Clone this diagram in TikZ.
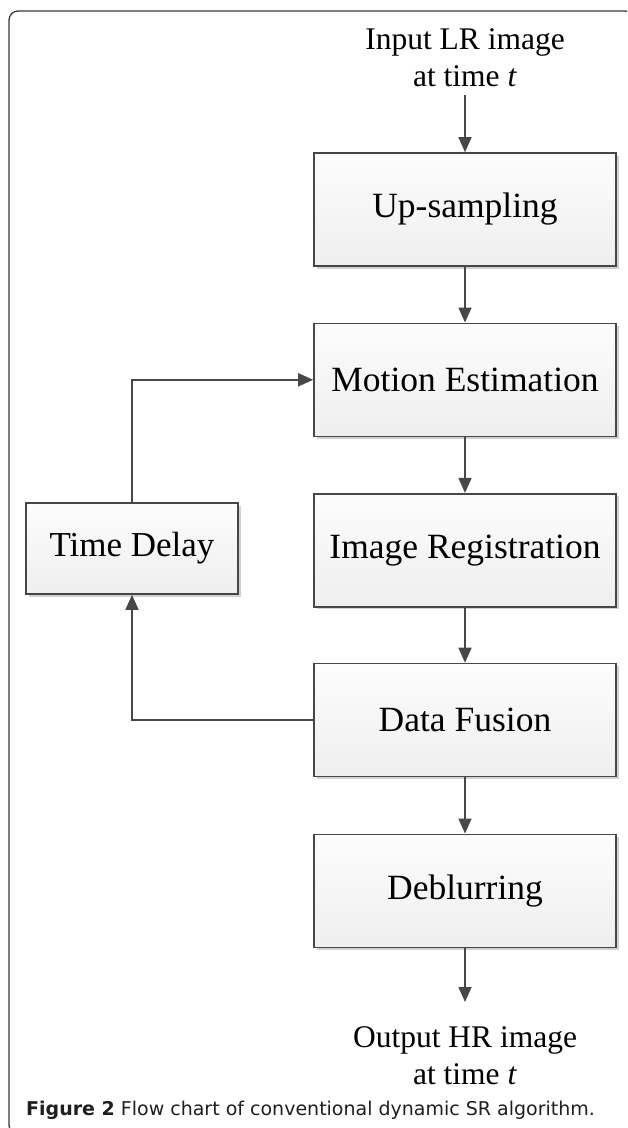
\documentclass[tikz,border=0pt]{standalone}
\usepackage{fontspec}
\setmainfont{Liberation Serif}
\newfontfamily\capfont{DejaVu Sans}
\usetikzlibrary{arrows.meta,shadows}

\definecolor{edge}{HTML}{474747}
\definecolor{framecol}{HTML}{3A3A3A}

\tikzset{
  proc/.style={draw=edge, line width=1.6pt, top color=gray!2, bottom color=gray!13,
    drop shadow={shadow xshift=2.5pt, shadow yshift=-2.5pt, opacity=0.18, fill=black},
    minimum width=302pt, minimum height=113pt, inner sep=0pt,
    font=\fontsize{35.5}{40}\selectfont},
  delaybox/.style={proc, minimum width=212pt, minimum height=91pt,
    font=\fontsize{35}{40}\selectfont},
  iotext/.style={align=center, inner sep=0pt, font=\fontsize{31.5}{37}\selectfont},
  flow/.style={draw=edge, line width=1.6pt, -{Triangle[length=15pt,width=13pt]}},
}

\begin{document}
\begin{tikzpicture}[x=1pt, y=-1pt]
  \useasboundingbox (0,0) rectangle (627,1128);
  \fill[white] (0,0) rectangle (627,1128);

  % outer frame, running off the right and bottom edges
  \begin{scope}
    \clip (0,0) rectangle (627,1128);
    \draw[framecol, line width=1.3pt, rounded corners=9pt] (9,11) rectangle (634,1134);
  \end{scope}

  % processing chain
  \node[iotext] (in) at (465,58) {Input LR image\\at time \textit{t}};
  \coordinate (inend) at (465,95);
  \node[proc] (up)  at (465,209.5) {Up-sampling};
  \node[proc] (me)  at (465,379.8) {Motion Estimation};
  \node[proc] (reg) at (465,550.2) {Image Registration};
  \node[proc] (fus) at (465,720.0) {Data Fusion};
  \node[proc] (deb) at (465,890.8) {Deblurring};
  \coordinate (outend) at (465,1002);
  \node[iotext] (out) at (465,1056) {Output HR image\\at time \textit{t}};

  % feedback loop
  \node[delaybox] (td) at (132,548.5) {Time Delay};

  \draw[flow] (inend) -- (up);
  \draw[flow] (up) -- (me);
  \draw[flow] (me) -- (reg);
  \draw[flow] (reg) -- (fus);
  \draw[flow] (fus) -- (deb);
  \draw[flow] (deb) -- (outend);

  \draw[flow] (fus.west) -| (td.south);
  \draw[flow] (td.north) |- (me.west);

  % caption
  \node[anchor=base west, inner sep=0pt, font=\capfont\fontsize{19}{22}\selectfont, text=black!88]
    (cap) at (26,1115) {\textbf{Figure 2} Flow chart of conventional dynamic SR algorithm.};
\end{tikzpicture}
\end{document}
